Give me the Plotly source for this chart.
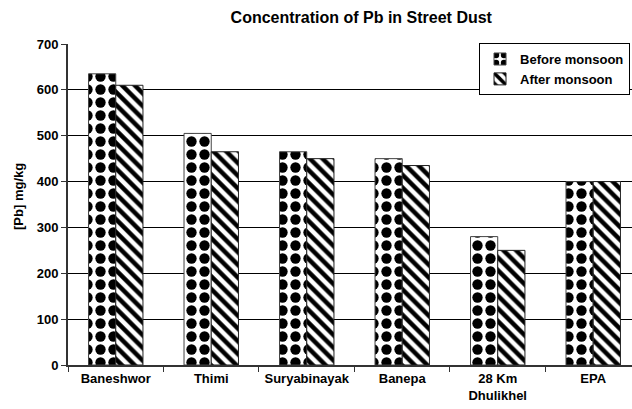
import plotly.graph_objects as go

categories = ["Baneshwor", "Thimi", "Suryabinayak", "Banepa", "28 Km<br>Dhulikhel", "EPA"]
before_monsoon = [635, 505, 465, 450, 280, 400]
after_monsoon = [610, 465, 450, 435, 250, 400]
y_ticks = [0, 100, 200, 300, 400, 500, 600, 700]

FONT = "Liberation Sans, Arial, sans-serif"

fig = go.Figure()
fig.add_trace(go.Bar(
    name="Before monsoon", x=categories, y=before_monsoon,
    marker=dict(color="white",
                line=dict(color="#444", width=1),
                pattern=dict(shape=".", bgcolor="white", fgcolor="black", fgopacity=1,
                             size=13, solidity=0.5)),
))
fig.add_trace(go.Bar(
    name="After monsoon", x=categories, y=after_monsoon,
    marker=dict(color="white",
                line=dict(color="#222", width=1),
                pattern=dict(shape="\\", fgcolor="black", bgcolor="white", fgopacity=1,
                             size=9, solidity=0.5)),
))

fig.update_layout(
    width=632, height=409,
    margin=dict(l=68, r=0, t=44, b=44),
    paper_bgcolor="white", plot_bgcolor="white",
    barmode="group", bargap=0.43, bargroupgap=0,
    font=dict(family=FONT, size=13, color="black", weight="bold"),
    title=dict(text="Concentration of Pb in Street Dust", x=0.52, xref="paper",
               xanchor="center", y=1 - 12 / 409, yref="container", yanchor="top",
               font=dict(family=FONT, size=16, color="black", weight="bold")),
    legend=dict(x=0.9965, y=1.003, xanchor="right", yanchor="top",
                bgcolor="white", bordercolor="black", borderwidth=1,
                font=dict(family=FONT, size=13, color="black", weight="bold"),
                itemwidth=30, tracegroupgap=0),
    showlegend=True,
    annotations=[dict(text="[Pb] mg/kg", textangle=-90, xref="paper", yref="paper",
                      x=(18 - 68) / 564, y=(365 - 197) / 321,
                      xanchor="center", yanchor="middle", showarrow=False,
                      font=dict(family=FONT, size=13, color="black", weight="bold"))],
)
fig.update_xaxes(
    range=[-0.5, 5.406], showline=True, linecolor="#333", linewidth=2,
    ticks="outside", tickson="boundaries", ticklen=5, tickcolor="#333",
    showgrid=False, automargin=False,
    tickfont=dict(family=FONT, size=13, color="black", weight="bold"),
)
fig.update_yaxes(
    range=[0, 700], tickvals=y_ticks, showline=True, linecolor="#333", linewidth=2,
    ticks="outside", ticklen=5, tickcolor="#333",
    showgrid=True, gridcolor="black", gridwidth=1, zeroline=False,
    automargin=False,
    tickfont=dict(family=FONT, size=13, color="black", weight="bold"),
)

fig.write_html("out.html", config={"displayModeBar": False},
               post_script="document.body.style.margin='0';")
